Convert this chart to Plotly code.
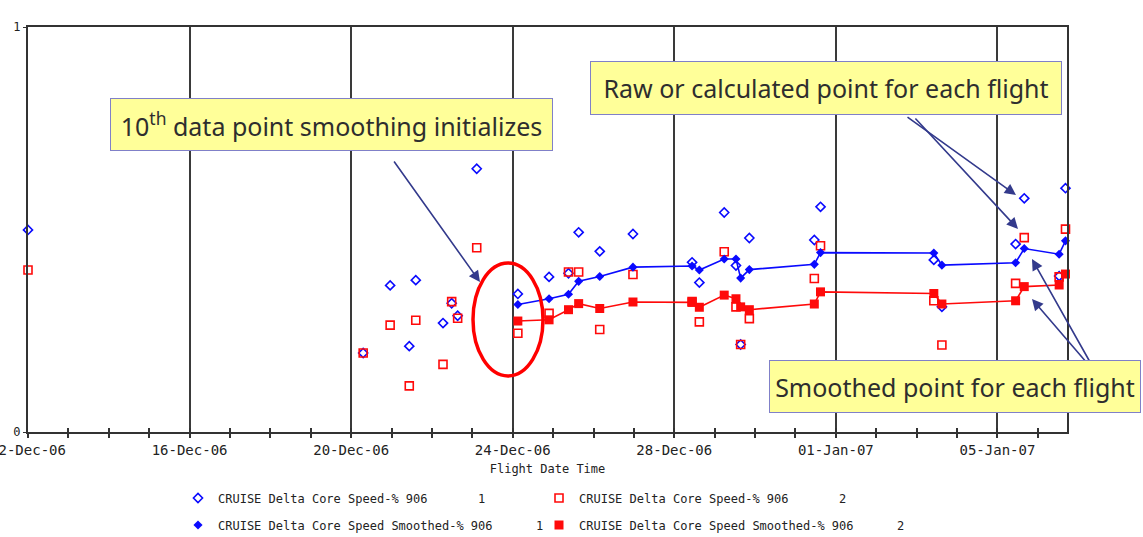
import plotly.graph_objects as go

# ---------------- data ----------------
flight_times = [
    "2006-12-12 00:00", "2006-12-20 07:09", "2006-12-20 23:10", "2006-12-21 10:32",
    "2006-12-21 14:24", "2006-12-22 06:35", "2006-12-22 11:44", "2006-12-22 15:17",
    "2006-12-23 02:37", "2006-12-24 03:03", "2006-12-24 21:36", "2006-12-25 09:09",
    "2006-12-25 15:11", "2006-12-26 03:42", "2006-12-26 23:27", "2006-12-28 10:34",
    "2006-12-28 14:53", "2006-12-29 05:40", "2006-12-29 12:39", "2006-12-29 15:26",
    "2006-12-29 20:36", "2006-12-31 11:12", "2006-12-31 14:53", "2007-01-03 10:12",
    "2007-01-03 15:00", "2007-01-05 10:48", "2007-01-05 15:56", "2007-01-06 12:40",
    "2007-01-06 16:26",
]
raw_speed_1 = [0.499, 0.195, 0.362, 0.212, 0.375, 0.269, 0.318, 0.287, 0.650, 0.341,
               0.383, 0.392, 0.493, 0.446, 0.489, 0.419, 0.369, 0.542, 0.411, 0.216,
               0.479, 0.474, 0.556, 0.425, 0.309, 0.464, 0.577, 0.385, 0.602]
raw_speed_2 = [0.400, 0.195, 0.264, 0.114, 0.276, 0.167, 0.322, 0.281, 0.455, 0.244,
               0.293, 0.395, 0.395, 0.253, 0.389, 0.322, 0.272, 0.445, 0.309, 0.216,
               0.280, 0.379, 0.460, 0.324, 0.215, 0.367, 0.480, 0.383, 0.501]
smooth_times = flight_times[9:]
smooth_speed_1 = [0.315, 0.329, 0.340, 0.372, 0.384, 0.407, 0.410, 0.400, 0.427, 0.427,
                  0.380, 0.401, 0.414, 0.443, 0.442, 0.412, 0.418, 0.453, 0.439, 0.472]
smooth_speed_2 = [0.274, 0.277, 0.302, 0.317, 0.305, 0.321, 0.320, 0.308, 0.338, 0.329,
                  0.309, 0.302, 0.316, 0.346, 0.342, 0.316, 0.324, 0.359, 0.363, 0.390]

x_range = ["2006-12-12 00:00", "2007-01-06 17:20"]
y_ticks = [0, 1]
nb = "\u00a0"
name_raw_1 = "CRUISE Delta Core Speed-% 906" + nb * 7 + "1"
name_raw_2 = "CRUISE Delta Core Speed-% 906" + nb * 7 + "2"
name_sm_1 = "CRUISE Delta Core Speed Smoothed-% 906" + nb * 6 + "1"
name_sm_2 = "CRUISE Delta Core Speed Smoothed-% 906" + nb * 6 + "2"

# ---------------- layout helpers ----------------
W, H = 1143, 537
L, R, T, B = 28, 1067, 27, 432


def px(x):
    return (x - L) / (R - L)


def py(y):
    return (B - y) / (B - T)


BLUE = "#0a0aff"
RED = "#ff0a0a"
MONO = "DejaVu Sans Mono"

fig = go.Figure()
# smoothed lines (no legend entry)
fig.add_trace(go.Scatter(x=smooth_times, y=smooth_speed_1, mode="lines", showlegend=False,
                         line=dict(color=BLUE, width=1.6), hoverinfo="skip"))
fig.add_trace(go.Scatter(x=smooth_times, y=smooth_speed_2, mode="lines", showlegend=False,
                         line=dict(color=RED, width=1.6), hoverinfo="skip"))
fig.add_trace(go.Scatter(
    x=flight_times, y=raw_speed_1, mode="markers", name=name_raw_1, legend="legend",
    marker=dict(symbol="diamond-open", size=7, color=BLUE, line=dict(width=1.6, color=BLUE)),
    cliponaxis=False))
fig.add_trace(go.Scatter(
    x=flight_times, y=raw_speed_2, mode="markers", name=name_raw_2, legend="legend2",
    marker=dict(symbol="square-open", size=8, color=RED, line=dict(width=1.6, color=RED)),
    cliponaxis=False))
fig.add_trace(go.Scatter(
    x=smooth_times, y=smooth_speed_1, mode="markers", name=name_sm_1, legend="legend3",
    marker=dict(symbol="diamond", size=7, color=BLUE), cliponaxis=False))
fig.add_trace(go.Scatter(
    x=smooth_times, y=smooth_speed_2, mode="markers", name=name_sm_2, legend="legend4",
    marker=dict(symbol="square", size=9, color=RED), cliponaxis=False))
# helper trace for the inner half of the tick marks
fig.add_trace(go.Scatter(x=[], y=[], xaxis="x2", showlegend=False, hoverinfo="skip"))

axis_font = dict(family=MONO, size=14, color="#222")
leg_font = dict(family=MONO, size=12, color="#222")


def leg(xp, yp):
    return dict(orientation="h", x=px(xp), y=py(yp), xanchor="left", yanchor="middle",
                font=leg_font, bgcolor="rgba(0,0,0,0)", itemwidth=30)


fig.update_layout(
    width=W, height=H,
    margin=dict(l=L, r=W - R, t=T, b=H - B, autoexpand=False),
    paper_bgcolor="white", plot_bgcolor="white",
    showlegend=True,
    xaxis=dict(
        type="date", range=x_range, automargin=False, ticklabeloverflow="allow",
        tick0="2006-12-12", dtick=4 * 86400000, tickformat="%d-%b-%y",
        showgrid=True, gridcolor="#3a3a3a", gridwidth=2,
        showline=True, linecolor="#333", linewidth=2, mirror=True,
        ticks="outside", ticklen=4, tickcolor="#333", tickwidth=1.5,
        minor=dict(dtick=86400000, tick0="2006-12-12", ticks="outside", ticklen=4,
                   tickcolor="#333", tickwidth=1.5, showgrid=False),
        tickfont=axis_font,
        title=dict(text="Flight Date Time", font=dict(family=MONO, size=12, color="#222"), standoff=8),
        zeroline=False,
    ),
    xaxis2=dict(
        type="date", overlaying="x", matches="x", anchor="y", side="bottom",
        showgrid=False, showline=False, showticklabels=False,
        tick0="2006-12-12", dtick=86400000,
        ticks="inside", ticklen=4, tickcolor="#333", tickwidth=1.5, zeroline=False,
    ),
    yaxis=dict(
        range=[0, 1], tickvals=y_ticks, ticktext=[str(v) for v in y_ticks], automargin=False,
        showgrid=False, zeroline=False,
        showline=True, linecolor="#333", linewidth=2, mirror=True,
        ticks="outside", ticklen=3, tickcolor="#333",
        tickfont=dict(family=MONO, size=12, color="#222"),
    ),
    legend=leg(178, 498),
    legend2=leg(539, 498),
    legend3=leg(178, 525),
    legend4=leg(539, 525),
)

# ---------------- callouts ----------------
BOX_FILL = "#ffff99"
BOX_LINE = "#8080c8"
ARROW = "#333a8c"
TXT = dict(family="Noto Sans", size=25, color="#2e2e2e")


def box(text, x0, x1, y0, y1):
    fig.add_annotation(
        xref="paper", yref="paper", x=px((x0 + x1) / 2), y=py((y0 + y1) / 2),
        xanchor="center", yanchor="middle", text=text, showarrow=False,
        width=x1 - x0 - 2, height=y1 - y0 - 2, borderpad=0, borderwidth=1,
        bgcolor=BOX_FILL, bordercolor=BOX_LINE, font=TXT, align="center", valign="middle")


def arrow(tx, ty, hx, hy):
    fig.add_annotation(
        xref="paper", yref="paper", x=px(hx), y=py(hy), text="",
        showarrow=True, ax=tx - hx, ay=ty - hy, axref="pixel", ayref="pixel",
        arrowhead=2, arrowsize=1.4, arrowwidth=1.6, arrowcolor=ARROW, standoff=0)


arrow(393, 160, 480, 282)
arrow(906, 116, 1016, 195)
arrow(914, 117, 1018, 229)
arrow(1090, 362, 1032, 259)
arrow(1087, 363, 1032, 299)

box("10<sup>th</sup> data point smoothing initializes", 110, 553, 98, 151)
box("Raw or calculated point for each flight", 590, 1062, 61, 115)
box("Smoothed point for each flight", 769, 1141, 360, 413)

fig.add_shape(type="circle", xref="paper", yref="paper",
              x0=px(473), x1=px(543), y0=py(376), y1=py(263),
              line=dict(color="#ff0000", width=3.5), fillcolor="rgba(0,0,0,0)")

fig.write_html(
    "out.html",
    config={"displayModeBar": False},
    post_script="document.body.style.margin='0';document.body.style.padding='0';",
)
